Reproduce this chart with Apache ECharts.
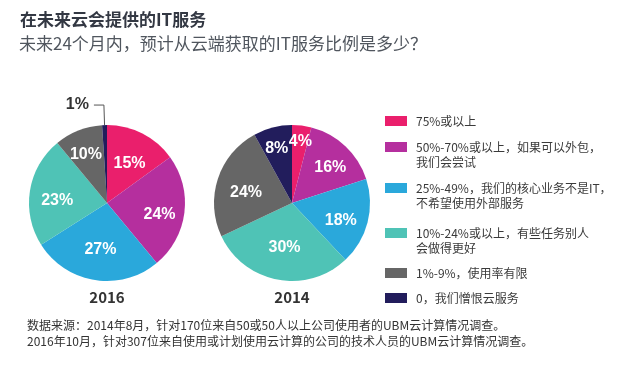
<!DOCTYPE html>
<html>
<head>
<meta charset="utf-8">
<script src="https://cdn.jsdelivr.net/npm/echarts@6/dist/echarts.min.js"></script>
<style>
html,body{margin:0;padding:0;background:#fff;}
#c{width:640px;height:385px;}
</style>
</head>
<body>
<div id="c"></div>
<script>
// ---- data ----
const categories = [
  '75%或以上',
  '50%-70%或以上，如果可以外包，\n我们会尝试',
  '25%-49%，我们的核心业务不是IT，\n不希望使用外部服务',
  '10%-24%或以上，有些任务别人\n会做得更好',
  '1%-9%，使用率有限',
  '0，我们憎恨云服务'
];
const values2016 = [15, 24, 27, 23, 10, 1];
const values2014 = [4, 16, 18, 30, 24, 8];
const years = ['2016', '2014'];
const titleText = '在未来云会提供的IT服务';
const subtitleText = '未来24个月内，预计从云端获取的IT服务比例是多少？';
const footerLines = [
  '数据来源：2014年8月，针对170位来自50或50人以上公司使用者的UBM云计算情况调查。',
  '2016年10月，针对307位来自使用或计划使用云计算的公司的技术人员的UBM云计算情况调查。'
];

// ---- styles / layout ----
const colors = ['#ea1f6c', '#b52f9e', '#2aa8db', '#4fc3b6', '#666666', '#221d5c'];
const centers = [[107, 203], [292, 203]];
const R = 78;
const labelScale = [
  [1.18, 1.26, 1.0, 1.2, 1.36, 1],
  [1.59, 1.33, 1.2, 0.95, 1.15, 1.46]
];
const labelShiftY = 5;
const legendCenters = [121, 147, 188, 233, 273, 298];
const cjk = '"Noto Sans CJK SC", "Noto Sans", sans-serif';
const num = '"Liberation Sans Narrow", "Liberation Sans", Arial, sans-serif';

function makeSeries(idx, values) {
  return {
    type: 'pie',
    name: years[idx],
    center: centers[idx],
    radius: [0, R],
    startAngle: 90,
    clockwise: true,
    avoidLabelOverlap: false,
    animation: false,
    color: colors,
    itemStyle: { borderWidth: 0 },
    label: {
      show: true,
      position: 'inside',
      formatter: '{c}%',
      color: '#fff',
      fontFamily: num,
      fontWeight: 'bold',
      fontSize: 16
    },
    labelLine: { show: true, length: 20, length2: 10, lineStyle: { color: '#555', width: 1 } },
    labelLayout: function (p) {
      if (idx === 0 && p.dataIndex === 5) return {};
      const s = labelScale[idx][p.dataIndex];
      const lx = p.labelRect.x + p.labelRect.width / 2;
      const ly = p.labelRect.y + p.labelRect.height / 2;
      return { dx: (lx - centers[idx][0]) * (s - 1), dy: (ly - centers[idx][1]) * (s - 1) + labelShiftY };
    },
    data: values.map((v, i) => {
      const d = { name: categories[i], value: v };
      if (idx === 0 && i === 5) {
        d.label = { position: 'outside', color: '#333', distance: 2, fontSize: 16 };
      }
      return d;
    })
  };
}

const legends = categories.map((name, i) => {
  const twoLine = name.indexOf('\n') >= 0;
  const top = twoLine ? legendCenters[i] - 22.5 : legendCenters[i] - 7.5;
  return {
    data: [name],
    left: 385,
    top: top,
    padding: 0,
    icon: 'rect',
    itemWidth: 22,
    itemHeight: 10,
    selectedMode: false,
    formatter: function (n) { return n.indexOf('\n') >= 0 ? '\n' + n : n; },
    textStyle: {
      fontFamily: cjk,
      fontSize: 12,
      lineHeight: 15,
      color: '#3a3a3a',
      padding: [0, 0, 0, 4]
    }
  };
});

const chart = echarts.init(document.getElementById('c'), null, { renderer: 'canvas' });
chart.setOption({
  backgroundColor: '#fff',
  color: colors,
  animation: false,
  title: [
    { text: titleText, left: 20, top: 11, padding: 0,
      textStyle: { fontFamily: cjk, fontSize: 17, fontWeight: 'bold', color: '#333843' } },
    { text: subtitleText, left: 19, top: 35, padding: 0,
      textStyle: { fontFamily: cjk, fontSize: 17, fontWeight: 'normal', color: '#50565e' } }
  ],
  legend: legends,
  series: [makeSeries(0, values2016), makeSeries(1, values2014)],
  graphic: [
    { type: 'text', x: centers[0][0], y: 297, style: { text: years[0], font: 'bold 15px ' + cjk, fill: '#333', textAlign: 'center', textVerticalAlign: 'middle' } },
    { type: 'text', x: centers[1][0], y: 297, style: { text: years[1], font: 'bold 15px ' + cjk, fill: '#333', textAlign: 'center', textVerticalAlign: 'middle' } },
    { type: 'text', x: 27, y: 325, style: { text: footerLines[0], font: '12px ' + cjk, fill: '#333', textAlign: 'left', textVerticalAlign: 'middle' } },
    { type: 'text', x: 27, y: 341, style: { text: footerLines[1], font: '12px ' + cjk, fill: '#333', textAlign: 'left', textVerticalAlign: 'middle' } }
  ]
});
</script>
</body>
</html>
